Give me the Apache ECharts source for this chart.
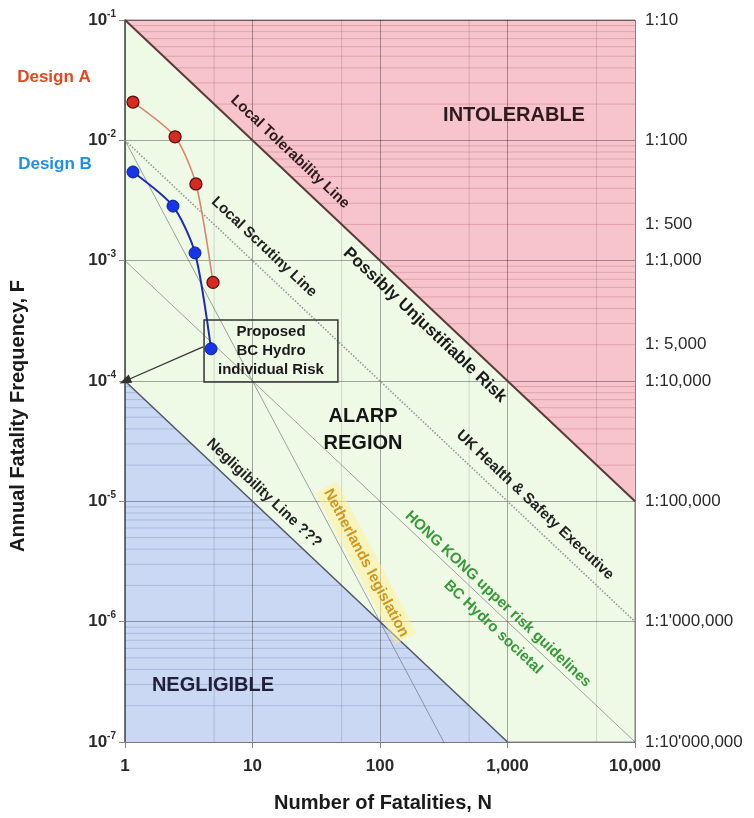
<!DOCTYPE html>
<html><head><meta charset="utf-8">
<script src="https://cdn.jsdelivr.net/npm/echarts@6/dist/echarts.min.js"></script>
<style>html,body{margin:0;padding:0;background:#fff}#c{width:754px;height:818px}</style>
</head><body><div id="c"></div>
<script>
// ---- data ----
const xTickLabels = ['1', '10', '100', '1,000', '10,000'];
const yTickExponents = ['-7', '-6', '-5', '-4', '-3', '-2', '-1'];

const designA_N = [1.155, 2.47, 3.6, 4.9];
const designA_F = [0.0208, 0.0107, 0.00434, 0.00066];
const designB_N = [1.155, 2.38, 3.54, 4.73];
const designB_F = [0.00546, 0.00284, 0.00116, 0.000185];

const tolerabilityLine = [[1, 1e-1], [10000, 1e-5]];
const scrutinyLine = [[1, 1e-2], [10000, 1e-6]];
const hongKongLine = [[1, 1e-3], [10000, 1e-7]];
const netherlandsLine = [[1, 1e-2], [316.2, 1e-7]];
const negligibilityLine = [[1, 1e-4], [1000, 1e-7]];

const intolerableRegion = [[1, 1e-1], [10000, 1e-1], [10000, 1e-5]];
const negligibleRegion = [[1, 1e-4], [1000, 1e-7], [1, 1e-7]];

const rightLabelValues = [1e-1, 1e-2, 2e-3, 1e-3, 2e-4, 1e-4, 1e-5, 1e-6, 1e-7];
const rightLabelTexts = ['1:10', '1:100', '1: 500', '1:1,000', '1: 5,000', '1:10,000', '1:100,000', "1:1'000,000", "1:10'000,000"];

const minorX = [5, 50, 500, 5000];
const minorMultipliers = [2, 3, 4, 5, 6, 7, 8, 9];

// annotation text anchors (N, F)
const annotations = [
  {text: 'Local Tolerability Line', at: [19.7, 8.0e-3], rot: -43.3, size: 15, color: '#2a1a1a'},
  {text: 'Possibly Unjustifiable Risk', at: [225, 2.92e-4], rot: -43.3, size: 17, color: '#1a1a1a'},
  {text: 'Local Scrutiny Line', at: [12.3, 1.3e-3], rot: -43.3, size: 15, color: '#222'},
  {text: 'UK Health & Safety Executive', at: [1644, 9.3e-6], rot: -43.3, size: 15, color: '#222'},
  {text: 'Negligibility Line ???', at: [12.3, 1.17e-5], rot: -43.3, size: 15, color: '#222'},
  {text: 'Netherlands legislation', at: [77.7, 3.07e-6], rot: -62.1, size: 15, color: '#d0961e', bg: 'rgba(255,238,150,0.5)'},
  {text: 'HONG KONG upper risk guidelines', at: [842, 1.54e-6], rot: -43.3, size: 15, color: '#38983a'},
  {text: 'BC Hydro societal', at: [770, 9.0e-7], rot: -43.3, size: 15, color: '#38983a'},
  {text: 'INTOLERABLE', at: [1125, 0.0162], rot: 0, size: 20, color: '#2e1c1c'},
  {text: 'ALARP\nREGION', at: [73.6, 3.92e-5], rot: 0, size: 20, color: '#151515'},
  {text: 'NEGLIGIBLE', at: [4.9, 2.97e-7], rot: 0, size: 20, color: '#20203a'}
];
const boxAnchor = [13.96, 1.775e-4];
const arrowFrom = [4.09, 1.92e-4];
const arrowTo = [1, 1e-4];

// ---- build ----
const FONT = '"Liberation Sans", Arial, sans-serif';

function polygonSeries(points, color) {
  return {
    type: 'custom', coordinateSystem: 'cartesian2d', z: 1, silent: true,
    data: [[1, 1e-3]], encode: {x: 0, y: 1},
    renderItem: (params, api) => ({
      type: 'polygon',
      shape: {points: points.map(p => api.coord(p))},
      style: {fill: color}
    })
  };
}
function segmentSeries(segs, color, z) {
  return {
    type: 'custom', coordinateSystem: 'cartesian2d', z: z || 2, silent: true,
    data: segs, encode: {x: [0, 2], y: [1, 3]},
    renderItem: (params, api) => {
      const p1 = api.coord([api.value(0), api.value(1)]);
      const p2 = api.coord([api.value(2), api.value(3)]);
      return {type: 'line', shape: {x1: p1[0], y1: p1[1], x2: p2[0], y2: p2[1]}, style: {stroke: color, lineWidth: 1}};
    }
  };
}
const vSegs = minorX.map(x => [x, 1e-7, x, 1e-1]);
const pinkSegs = [], blueSegs = [];
for (let d = -5; d <= -2; d++) {
  minorMultipliers.forEach(m => {
    const F = m * Math.pow(10, d);
    pinkSegs.push([0.1 / F, F, 10000, F]);
  });
}
for (let d = -7; d <= -5; d++) {
  minorMultipliers.forEach(m => {
    const F = m * Math.pow(10, d);
    blueSegs.push([1, F, 1e-4 / F, F]);
  });
}
function refLine(data, color, width, type) {
  return {type: 'line', data: data, symbol: 'none', silent: true, z: 4,
    lineStyle: {color: color, width: width, type: type || 'solid'}};
}
function zip(a, b) { return a.map((v, i) => [v, b[i]]); }

const series = [
  polygonSeries(intolerableRegion, '#f7c4cb'),
  polygonSeries(negligibleRegion, '#cad8f4'),
  segmentSeries(vSegs, 'rgba(0,0,0,0.14)'),
  segmentSeries(pinkSegs, 'rgba(140,50,60,0.22)'),
  segmentSeries(blueSegs, 'rgba(50,70,130,0.2)'),
  refLine(scrutinyLine, '#9a9a9a', 1.6, 'dotted'),
  refLine(hongKongLine, 'rgba(90,90,90,0.55)', 1),
  refLine(netherlandsLine, 'rgba(90,90,90,0.55)', 1),
  refLine(negligibilityLine, '#4f5666', 1.5),
  refLine(tolerabilityLine, '#5a3a3c', 2),
  {
    type: 'line', name: 'Design A', data: zip(designA_N, designA_F), z: 6, smooth: 0.25,
    symbol: 'circle', symbolSize: 12,
    itemStyle: {color: '#d62a22', borderColor: '#5a1010', borderWidth: 1.3, opacity: 1},
    lineStyle: {color: '#d8866f', width: 1.6}
  },
  {
    type: 'line', name: 'Design B', data: zip(designB_N, designB_F), z: 6, smooth: 0.25,
    symbol: 'circle', symbolSize: 12,
    itemStyle: {color: '#1634e8', borderColor: '#10208a', borderWidth: 1, opacity: 1},
    lineStyle: {color: '#1e2cb4', width: 2}
  },
  {
    type: 'scatter', data: [boxAnchor], symbolSize: 0, z: 6, silent: true,
    itemStyle: {opacity: 1},
    label: {show: true, position: 'inside', formatter: 'Proposed\nBC Hydro\nindividual Risk',
      fontFamily: FONT, fontSize: 15, fontWeight: 'bold', color: '#1a1a1a', lineHeight: 19,
      borderColor: '#333', borderWidth: 1.5, padding: [3, 14, 2, 14], align: 'center'},
    markLine: {silent: true, symbol: ['none', 'triangle'], symbolSize: [9, 12],
      lineStyle: {color: '#333', width: 1.2, type: 'solid', opacity: 1}, label: {show: false},
      data: [[{coord: arrowFrom}, {coord: arrowTo}]]}
  },
  {
    type: 'scatter', data: rightLabelValues.map(v => [10000, v]), symbolSize: 0, z: 6, silent: true, clip: false,
    itemStyle: {opacity: 1},
    label: {show: true, position: 'right', distance: 10, formatter: p => rightLabelTexts[p.dataIndex],
      fontFamily: FONT, fontSize: 17, color: '#2a2a2a'}
  }
];
annotations.forEach(a => {
  series.push({
    type: 'scatter', data: [a.at], symbolSize: 0, z: 7, silent: true,
    itemStyle: {opacity: 1},
    label: {show: true, position: 'inside', formatter: a.text, rotate: a.rot,
      fontFamily: FONT, fontSize: a.size, fontWeight: 'bold', color: a.color,
      lineHeight: a.size + 7, align: 'center', backgroundColor: a.bg || 'transparent', padding: a.bg ? [1, 3] : 0}
  });
});

const chart = echarts.init(document.getElementById('c'), null, {renderer: 'canvas'});
chart.setOption({
  animation: false,
  backgroundColor: '#fff',
  grid: {left: 125, top: 20, right: 119, bottom: 76, show: true, backgroundColor: '#eefae6',
    borderColor: 'rgba(0,0,0,0.45)', borderWidth: 1},
  xAxis: {
    type: 'log', logBase: 10, min: 1, max: 10000, z: 3,
    axisLine: {show: true, lineStyle: {color: '#777', width: 1}},
    axisTick: {show: true, length: 6, lineStyle: {color: '#888'}},
    splitLine: {show: true, lineStyle: {color: 'rgba(0,0,0,0.33)', width: 1}},
    axisLabel: {margin: 16, fontFamily: FONT, fontSize: 17, fontWeight: 'bold', color: '#2a2a2a',
      formatter: v => xTickLabels[Math.round(Math.log10(v))]}
  },
  yAxis: {
    type: 'log', logBase: 10, min: 1e-7, max: 1e-1, z: 3,
    axisLine: {show: true, lineStyle: {color: '#555', width: 1.5}},
    axisTick: {show: true, length: 6, lineStyle: {color: '#888'}},
    splitLine: {show: true, lineStyle: {color: 'rgba(0,0,0,0.33)', width: 1}},
    axisLabel: {margin: 9, fontFamily: FONT,
      formatter: v => '{b|10}{s|' + yTickExponents[Math.round(Math.log10(v)) + 7] + '}',
      rich: {
        b: {fontFamily: FONT, fontSize: 17, fontWeight: 'bold', color: '#2a2a2a', lineHeight: 22},
        s: {fontFamily: FONT, fontSize: 10, fontWeight: 'bold', color: '#2a2a2a', verticalAlign: 'top', lineHeight: 12}
      }}
  },
  graphic: [
    {type: 'text', x: 18, y: 416, rotation: Math.PI / 2,
      style: {text: 'Annual Fatality Frequency, F', fontFamily: FONT, fontSize: 20, fontWeight: 'bold', fill: '#1a1a1a', align: 'center', verticalAlign: 'middle'}},
    {type: 'text', x: 383, y: 803,
      style: {text: 'Number of Fatalities, N', fontFamily: FONT, fontSize: 20, fontWeight: 'bold', fill: '#1a1a1a', align: 'center', verticalAlign: 'middle'}},
    {type: 'text', x: 54, y: 77,
      style: {text: 'Design A', fontFamily: FONT, fontSize: 17, fontWeight: 'bold', fill: '#e2481e', align: 'center', verticalAlign: 'middle'}},
    {type: 'text', x: 55, y: 164,
      style: {text: 'Design B', fontFamily: FONT, fontSize: 17, fontWeight: 'bold', fill: '#1d8fe6', align: 'center', verticalAlign: 'middle'}}
  ],
  series: series
});
</script></body></html>
